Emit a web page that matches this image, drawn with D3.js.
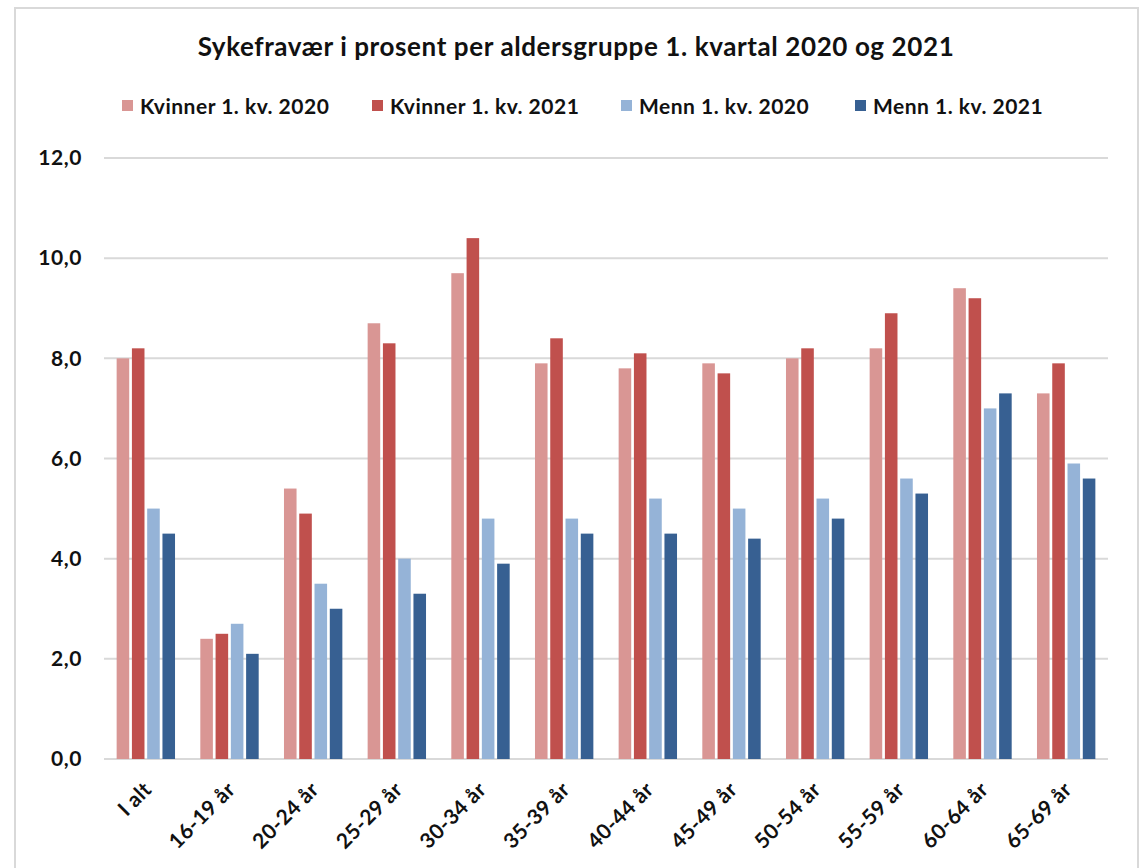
<!DOCTYPE html>
<html>
<head>
<meta charset="utf-8">
<script src="https://cdn.jsdelivr.net/npm/d3@7"></script>
<style>
  body { margin: 0; background: #fff; }
  text { font-family: Lato, "Open Sans", sans-serif; font-weight: bold; fill: #111; }
</style>
</head>
<body>
<svg></svg>
<script>
const width = 1146
const height = 868

const categories = ['I alt', '16-19 år', '20-24 år', '25-29 år', '30-34 år', '35-39 år',
  '40-44 år', '45-49 år', '50-54 år', '55-59 år', '60-64 år', '65-69 år']
const seriesNames = ['Kvinner 1. kv. 2020', 'Kvinner 1. kv. 2021', 'Menn 1. kv. 2020', 'Menn 1. kv. 2021']
const kvinner2020 = [8.0, 2.4, 5.4, 8.7, 9.7, 7.9, 7.8, 7.9, 8.0, 8.2, 9.4, 7.3]
const kvinner2021 = [8.2, 2.5, 4.9, 8.3, 10.4, 8.4, 8.1, 7.7, 8.2, 8.9, 9.2, 7.9]
const menn2020 = [5.0, 2.7, 3.5, 4.0, 4.8, 4.8, 5.2, 5.0, 5.2, 5.6, 7.0, 5.9]
const menn2021 = [4.5, 2.1, 3.0, 3.3, 3.9, 4.5, 4.5, 4.4, 4.8, 5.3, 7.3, 5.6]
const yTicks = [0, 2, 4, 6, 8, 10, 12]
const colors = ['#d99694', '#c0504d', '#95b3d7', '#376092']

const seriesValues = [kvinner2020, kvinner2021, menn2020, menn2021]
const rows = categories.map((c, i) => ({ cat: c, vals: seriesValues.map(s => s[i]) }))

const svg = d3.select('svg').attr('width', width).attr('height', height)

svg.append('rect').attr('width', width).attr('height', height).attr('fill', '#fff')
// chart frame
svg.append('rect')
  .attr('x', 15).attr('y', 8).attr('width', 1123).attr('height', 900)
  .attr('fill', 'none').attr('stroke', '#d9d9d9').attr('stroke-width', 2)

const y = d3.scaleLinear().domain([0, 12]).range([759, 158])
const x0 = d3.scaleBand().domain(categories).range([104, 1108])
  .paddingInner(0.27).paddingOuter(0.135)
const x1 = d3.scaleBand().domain(d3.range(4)).range([0, x0.bandwidth()])

// gridlines
svg.append('g')
  .selectAll('line')
  .data(yTicks)
  .join('line')
  .attr('x1', 104).attr('x2', 1108)
  .attr('y1', d => y(d)).attr('y2', d => y(d))
  .attr('stroke', '#d9d9d9').attr('stroke-width', 2)

// y axis labels
const yAxis = svg.append('g')
  .attr('transform', 'translate(82,0)')
  .call(d3.axisLeft(y).tickValues(yTicks).tickSize(0).tickPadding(0)
    .tickFormat(d => d3.format('.1f')(d).replace('.', ',')))
yAxis.select('.domain').remove()
yAxis.selectAll('text')
  .style('font-size', '21px')
  .style('letter-spacing', '0.6px')
  .attr('fill', '#111')

// bars
const gap = 2.7
svg.append('g')
  .selectAll('g')
  .data(rows)
  .join('g')
  .attr('transform', d => `translate(${x0(d.cat)},0)`)
  .selectAll('rect')
  .data(d => d.vals)
  .join('rect')
  .attr('x', (d, i) => x1(i) + gap / 2)
  .attr('width', x1.bandwidth() - gap)
  .attr('y', d => y(d))
  .attr('height', d => y(0) - y(d))
  .attr('fill', (d, i) => colors[i])

// x axis labels
const xAxis = svg.append('g')
  .attr('transform', `translate(0,${y(0)})`)
  .call(d3.axisBottom(x0).tickSize(0).tickPadding(0))
xAxis.select('.domain').remove()
xAxis.selectAll('text')
  .style('font-size', '21px')
  .style('letter-spacing', '0.4px')
  .attr('fill', '#111')
  .attr('text-anchor', 'end')
  .attr('dy', null)
  .attr('transform', 'translate(7,32) rotate(-45)')

// title
svg.append('text')
  .attr('x', 576).attr('y', 56)
  .attr('text-anchor', 'middle')
  .style('font-size', '26px')
  .style('letter-spacing', '0.6px')
  .text('Sykefravær i prosent per aldersgruppe 1. kvartal 2020 og 2021')

// legend
const legendX = [122, 372, 621, 855]
const legend = svg.append('g')
  .selectAll('g')
  .data(seriesNames)
  .join('g')
  .attr('transform', (d, i) => `translate(${legendX[i]},114)`)
legend.append('rect')
  .attr('x', 0).attr('y', -14).attr('width', 11).attr('height', 11)
  .attr('fill', (d, i) => colors[i])
legend.append('text')
  .attr('x', 18)
  .style('font-size', '21px')
  .style('letter-spacing', '0.5px')
  .text(d => d)
</script>
</body>
</html>
